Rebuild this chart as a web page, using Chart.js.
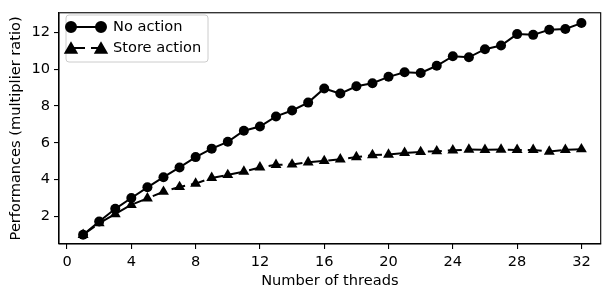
<!DOCTYPE html>
<html>
<head>
<meta charset="utf-8">
<script src="https://cdn.jsdelivr.net/npm/chart.js@4"></script>
<style>
  html, body { margin: 0; padding: 0; background: #fff; }
  #wrap { width: 607px; height: 292px; }
</style>
</head>
<body>
<div id="wrap"><canvas id="chart"></canvas></div>
<script>
const threads = [1, 2, 3, 4, 5, 6, 7, 8, 9, 10, 11, 12, 13, 14, 15, 16,
  17, 18, 19, 20, 21, 22, 23, 24, 25, 26, 27, 28, 29, 30, 31, 32];
const noAction = [1.0, 1.72, 2.41, 3.0, 3.58, 4.13, 4.66, 5.22, 5.68, 6.05, 6.65, 6.88, 7.43, 7.75, 8.18, 8.95,
  8.67, 9.07, 9.23, 9.58, 9.83, 9.79, 10.18, 10.7, 10.64, 11.08, 11.28, 11.9, 11.86, 12.14, 12.18, 12.5];
const storeAction = [1.0, 1.63, 2.13, 2.63, 2.98, 3.34, 3.6, 3.78, 4.09, 4.25, 4.43, 4.66, 4.8, 4.82, 4.94, 5.01,
  5.1, 5.22, 5.33, 5.36, 5.45, 5.5, 5.54, 5.59, 5.63, 5.61, 5.63, 5.61, 5.61, 5.52, 5.61, 5.65];
const xTicks = [0, 4, 8, 12, 16, 20, 24, 28, 32];
const yTicks = [2, 4, 6, 8, 10, 12];

const font = { family: "'DejaVu Sans', sans-serif", size: 14.6 };

function pts(ys) {
  return threads.map((t, i) => ({ x: t, y: ys[i] }));
}

// matplotlib-style frame and legend
const framePlugin = {
  id: "frame",
  afterDraw(chart) {
    const { ctx, chartArea: a } = chart;
    ctx.save();
    ctx.strokeStyle = "#000";
    ctx.lineWidth = 1.1;
    ctx.strokeRect(a.left, a.top, a.right - a.left, a.bottom - a.top);

    // legend box
    const bx = 66, by = 15, bw = 142, bh = 47, r = 3;
    ctx.beginPath();
    ctx.roundRect(bx, by, bw, bh, r);
    ctx.fillStyle = "rgba(255,255,255,0.8)";
    ctx.fill();
    ctx.strokeStyle = "#cccccc";
    ctx.lineWidth = 1;
    ctx.stroke();

    const rows = [27, 48];
    chart.data.datasets.forEach((ds, i) => {
      const y = rows[i];
      ctx.beginPath();
      ctx.strokeStyle = "#000";
      ctx.lineWidth = ds.borderWidth;
      ctx.setLineDash(ds.borderDash || []);
      ctx.moveTo(71, y);
      ctx.lineTo(101, y);
      ctx.stroke();
      ctx.setLineDash([]);
      const style = { pointStyle: ds.pointStyle, radius: ds.pointRadius, borderWidth: 1 };
      ctx.fillStyle = "#000";
      const dy = ds.pointStyle === "triangle" ? 1.5 : 0;
      Chart.helpers.drawPoint(ctx, style, 71, y + dy);
      Chart.helpers.drawPoint(ctx, style, 101, y + dy);
      ctx.fillStyle = "#000";
      ctx.font = font.size + "px " + font.family;
      ctx.textBaseline = "middle";
      ctx.textAlign = "left";
      ctx.fillText(ds.label, 113, y);
    });
    ctx.restore();
  },
};

new Chart(document.getElementById("chart"), {
  type: "line",
  data: {
    datasets: [
      {
        label: "No action",
        data: pts(noAction),
        borderColor: "#000",
        backgroundColor: "#000",
        borderWidth: 2,
        pointStyle: "circle",
        pointRadius: 5,
        pointBorderWidth: 0,
        pointBackgroundColor: "#000",
      },
      {
        label: "Store action",
        data: pts(storeAction),
        borderColor: "#000",
        backgroundColor: "#000",
        borderWidth: 2,
        borderDash: [14, 6],
        pointStyle: "triangle",
        pointRadius: 6.3,
        pointBorderWidth: 0,
        pointBackgroundColor: "#000",
      },
    ],
  },
  options: {
    responsive: true,
    maintainAspectRatio: false,
    animation: false,
    events: [],
    layout: { padding: { left: 0, right: 2, top: 7, bottom: 0 } },
    plugins: { legend: { display: false }, tooltip: { enabled: false } },
    scales: {
      x: {
        type: "linear",
        min: -0.5,
        max: 33.2,
        afterBuildTicks(scale) {
          scale.ticks = xTicks.map((v) => ({ value: v }));
        },
        afterFit(scale) {
          scale.height = 48;
        },
        grid: { drawOnChartArea: false, tickLength: 5, color: "#000", lineWidth: 1.1 },
        border: { color: "#000", width: 1.1 },
        ticks: { color: "#000", font, padding: 4, maxRotation: 0 },
        title: {
          display: true,
          text: "Number of threads",
          color: "#000",
          font,
          padding: { top: 0, bottom: 2 },
        },
      },
      y: {
        min: 0.5,
        max: 13.06,
        afterBuildTicks(scale) {
          scale.ticks = yTicks.map((v) => ({ value: v }));
        },
        afterFit(scale) {
          scale.width = 59;
        },
        grid: { drawOnChartArea: false, tickLength: 5, color: "#000", lineWidth: 1.1 },
        border: { color: "#000", width: 1.1 },
        ticks: { color: "#000", font, padding: 4 },
        title: {
          display: true,
          text: "Performances (multiplier ratio)",
          color: "#000",
          font,
          padding: { top: 7, bottom: 0 },
        },
      },
    },
  },
  plugins: [framePlugin],
});
</script>
</body>
</html>
